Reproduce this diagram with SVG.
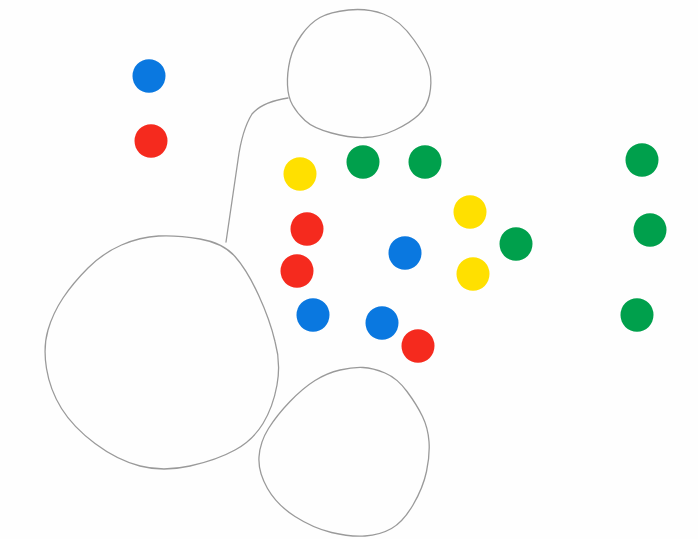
<svg xmlns="http://www.w3.org/2000/svg" width="698" height="539" viewBox="0 0 698 539">
<style>
.o{fill:none;stroke:#9a9a9a;stroke-width:1.3;stroke-linejoin:round;stroke-linecap:round}
.b{fill:#0a78e0}.r{fill:#f52a1e}.y{fill:#ffe000}.g{fill:#00a04c}
</style>
<rect width="698" height="539" fill="#fefefe"/>
<g id="outlines">
<path id="top-circle" class="o" d="M320,17.5 Q330,12 348.5,10 Q367,8 383.5,14 Q400,20 414,40 Q428,60 430,71.5 Q432,83 429.5,95 Q427,107 418.5,115 Q410,123 395,130 Q380,137 365,137.5 Q350,138 331.5,133 Q313,128 305,120.5 Q297,113 292.5,105 Q288,97 287.5,85 Q287,73 290,60 Q293,47 301.5,35 Q310,23 320,17.5 Z"/>
<path id="connector" class="o" d="M288,98 Q262,102 252,114 Q242,130 238,160 Q232,200 226,242"/>
<path id="big-circle" class="o" d="M158.5,236 Q177,235 200,239 Q223,243 235,256.5 Q247,270 258.5,295 Q270,320 275,341.5 Q281,363 277,385 Q273,407 263,423.5 Q253,440 235,450 Q217,460 190,466 Q163,472 140,466 Q117,460 95,443.5 Q73,427 61.5,408.5 Q50,390 46.5,368.5 Q43,347 48,330 Q53,313 63,298 Q73,283 88,268 Q103,253 121.5,245 Q140,237 158.5,236 Z"/>
<path id="bottom-circle" class="o" d="M340,370 Q353,367 363,367.5 Q373,368 385,373 Q397,378 407,391.5 Q417,405 422.5,416.5 Q428,428 429,441.5 Q430,455 426.5,471.5 Q423,488 413,505 Q403,522 391.5,528.5 Q380,535 365,536 Q350,537 331.5,532.5 Q313,528 295,516.5 Q277,505 267.5,488.5 Q258,472 259,457 Q260,442 268.5,428.5 Q277,415 290,401.5 Q303,388 315,380.5 Q327,373 340,370 Z"/>
</g>
<g id="dots">
<ellipse class="b" cx="149" cy="76" rx="16.5" ry="16.8"/>
<ellipse class="r" cx="151" cy="141" rx="16.5" ry="16.8"/>
<ellipse class="y" cx="300" cy="174" rx="16.5" ry="16.8"/>
<ellipse class="g" cx="363" cy="162" rx="16.5" ry="16.8"/>
<ellipse class="g" cx="425" cy="162" rx="16.5" ry="16.8"/>
<ellipse class="g" cx="642" cy="160" rx="16.5" ry="16.8"/>
<ellipse class="y" cx="470" cy="212" rx="16.5" ry="16.8"/>
<ellipse class="r" cx="307" cy="229" rx="16.5" ry="16.8"/>
<ellipse class="g" cx="516" cy="244" rx="16.5" ry="16.8"/>
<ellipse class="g" cx="650" cy="230" rx="16.5" ry="16.8"/>
<ellipse class="b" cx="405" cy="253" rx="16.5" ry="16.8"/>
<ellipse class="r" cx="297" cy="271" rx="16.5" ry="16.8"/>
<ellipse class="y" cx="473" cy="274" rx="16.5" ry="16.8"/>
<ellipse class="b" cx="313" cy="315" rx="16.5" ry="16.8"/>
<ellipse class="b" cx="382" cy="323" rx="16.5" ry="16.8"/>
<ellipse class="r" cx="418" cy="346" rx="16.5" ry="16.8"/>
<ellipse class="g" cx="637" cy="315" rx="16.5" ry="16.8"/>
</g>
</svg>
